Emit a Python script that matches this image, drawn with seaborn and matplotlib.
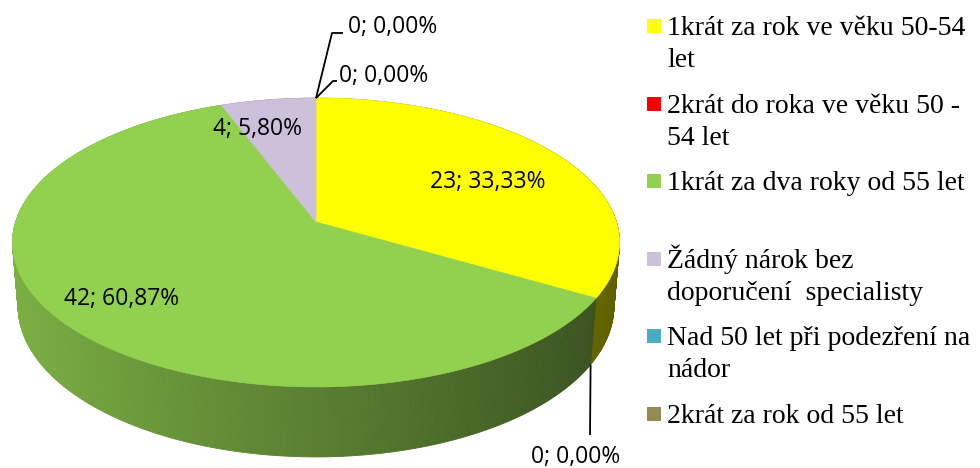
import numpy as np
import matplotlib
matplotlib.use("Agg")
import matplotlib.pyplot as plt
from matplotlib.colors import to_rgb
from matplotlib.patches import Rectangle
import seaborn as sns

# ---------------- data ----------------
categories = [
    "1krát za rok ve věku 50-54\nlet",
    "2krát do roka ve věku 50 -\n54 let",
    "1krát za dva roky od 55 let",
    "Žádný nárok bez\ndoporučení  specialisty",
    "Nad 50 let při podezření na\nnádor",
    "2krát za rok od 55 let",
]
counts = [23, 0, 42, 4, 0, 0]
colors = ["#FFFF00", "#FF0000", "#92D050", "#CCC0DA", "#4BACC6", "#948A54"]

# label layout (pixel positions of the data labels: x, baseline y, ha)
label_pos = [(488, 188, "center"), (576, 463, "center"), (122, 305, "center"),
             (257, 135, "center"), (348, 33, "left"), (339, 82, "left")]
# leader polyline ends for zero slices
leaders = {1: [(590, 435)], 4: [(332, 33), (343, 33)], 5: [(333, 81), (337, 81)]}

# ---------------- style ----------------
sns.set_theme(style="white")
plt.rcParams["font.family"] = ["Open Sans", "DejaVu Sans"]

W, H_PX = 980, 468
fig = plt.figure(figsize=(W / 100, H_PX / 100), dpi=100)
ax = fig.add_axes([0, 0, 1, 1])
ax.set_xlim(0, W)
ax.set_ylim(H_PX, 0)
ax.axis("off")

# ---------------- 3D pie projection ----------------
cx, cy, A = 316.0, 222.0, 300.4
se, ce = 0.471, 0.882
D = 6.21
Hd = 0.243


def proj(theta_deg, r=1.0, z=0.0):
    t = np.radians(theta_deg)
    X = r * np.sin(t)
    Y = r * np.cos(t)
    v = Y * se + z * ce
    d = Y * ce - z * se
    w = 1 + d / D
    return cx + A * X / w, cy - A * v / w, d


total = sum(counts)
fracs = [c / total for c in counts]
starts = np.concatenate([[0], np.cumsum(fracs)[:-1]]) * 360
ends = np.cumsum(fracs) * 360

# side strips
strips = []
for i, (s, e) in enumerate(zip(starts, ends)):
    if e - s <= 0:
        continue
    n = max(2, int((e - s) / 0.5))
    th = np.linspace(s, e, n + 1)
    base = np.array(to_rgb(colors[i]))
    for a0, a1 in zip(th[:-1], th[1:]):
        am = 0.5 * (a0 + a1)
        b = 0.61 + 0.244 * np.cos(np.radians(am - 270))
        col = np.clip(base * b, 0, 1)
        p = [proj(a0), proj(a1), proj(a1, z=-Hd), proj(a0, z=-Hd)]
        depth = proj(am, z=-Hd / 2)[2]
        strips.append((depth, [(q[0], q[1]) for q in p], col))

strips.sort(key=lambda t: -t[0])
for depth, pts, col in strips:
    ax.fill([q[0] for q in pts], [q[1] for q in pts], color=col, lw=0.6,
            ec=col, zorder=1)

# top face
for i, (s, e) in enumerate(zip(starts, ends)):
    if e - s <= 0:
        continue
    th = np.linspace(s, e, max(3, int((e - s) * 2)))
    xs = [cx] + [proj(t)[0] for t in th]
    ys = [cy] + [proj(t)[1] for t in th]
    ax.fill(xs, ys, color=colors[i], lw=0.5, ec=colors[i], zorder=2)

# data labels
for i, c in enumerate(counts):
    pct = f"{100 * fracs[i]:.2f}".replace(".", ",")
    txt = f"{c}; {pct}%"
    x, y, ha = label_pos[i]
    ax.text(x, y, txt, ha=ha, va="baseline", fontsize=16.5, color="black",
            zorder=5)
    if c == 0:
        ang = starts[i]
        zz = -Hd if i == 1 else 0.0
        x0, y0, _ = proj(ang, z=zz)
        pts = [(x0, y0)] + leaders[i]
        ax.plot([q[0] for q in pts], [q[1] for q in pts], color="black",
                lw=1.3, zorder=4, solid_capstyle="butt")

# legend
serif = ["Liberation Serif", "DejaVu Serif"]
step = 77.6
for i, lab in enumerate(categories):
    base_y = 35 + step * i
    ax.add_patch(Rectangle((647, base_y - 16), 14, 14, color=colors[i], lw=0,
                           zorder=5))
    for k, line in enumerate(lab.split("\n")):
        ax.text(667, base_y + 32 * k, line, ha="left", va="baseline",
                fontsize=20, family=serif, color="black", zorder=5)

fig.savefig("out.png", dpi=100)
